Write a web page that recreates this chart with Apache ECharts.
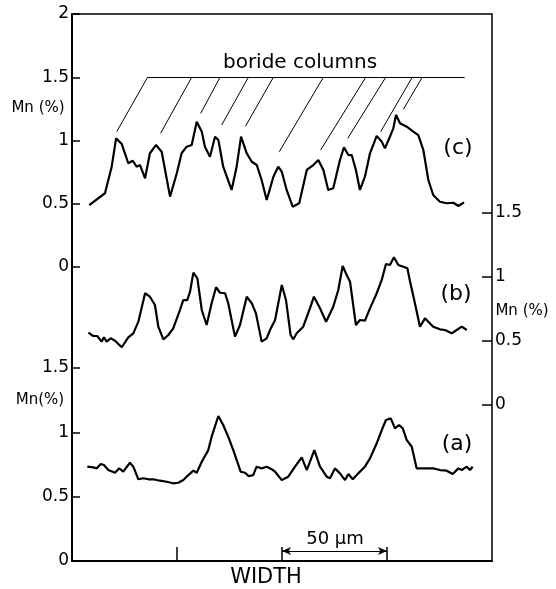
<!DOCTYPE html>
<html>
<head>
<meta charset="utf-8">
<script src="https://cdn.jsdelivr.net/npm/echarts@6/dist/echarts.min.js"></script>
<style>
  html, body { margin: 0; padding: 0; background: #fff; }
  #chart { width: 556px; height: 589px; }
</style>
</head>
<body>
<div id="chart"></div>
<script>
// width across the section, in µm (0..200 spans the frame)
const cWidth = [8.2, 15.7, 18.9, 21.0, 23.7, 26.8, 28.9, 30.8, 32.4, 34.8, 37.1, 40.0, 42.7, 46.7, 49.9, 52.2, 54.6, 57.0, 59.4, 61.8, 63.3, 65.7, 68.1, 69.7, 72.0, 76.0, 78.4, 80.5, 83.2, 85.6, 88.0, 90.3, 92.7, 94.3, 95.9, 98.2, 99.9, 102.2, 105.1, 108.2, 111.8, 114.9, 117.3, 119.7, 122.0, 124.4, 127.6, 129.5, 131.6, 133.2, 135.2, 137.1, 139.5, 141.9, 145.1, 147.5, 149.0, 151.4, 153.0, 154.3, 156.2, 159.4, 162.5, 164.9, 167.3, 169.7, 172.0, 175.2, 178.4, 181.6, 184.0, 186.7];
const cMn = [0.49, 0.583, 0.793, 1.017, 0.972, 0.820, 0.840, 0.793, 0.806, 0.701, 0.899, 0.964, 0.911, 0.556, 0.741, 0.899, 0.951, 0.964, 1.149, 1.070, 0.951, 0.872, 1.030, 1.004, 0.793, 0.609, 0.793, 1.030, 0.899, 0.832, 0.806, 0.688, 0.530, 0.62, 0.714, 0.793, 0.753, 0.609, 0.477, 0.504, 0.767, 0.806, 0.846, 0.767, 0.609, 0.622, 0.846, 0.946, 0.885, 0.885, 0.767, 0.609, 0.714, 0.899, 1.036, 0.991, 0.938, 1.030, 1.096, 1.202, 1.136, 1.109, 1.070, 1.043, 0.925, 0.688, 0.569, 0.516, 0.504, 0.508, 0.482, 0.511];

const bWidth = [7.8, 10.1, 12.0, 14.1, 15.2, 16.5, 18.4, 20.5, 23.7, 26.8, 29.2, 31.6, 34.8, 37.1, 39.5, 41.1, 43.5, 45.9, 48.2, 51.4, 53.0, 54.9, 56.2, 57.8, 59.7, 61.8, 64.1, 66.5, 68.6, 70.5, 72.9, 74.4, 77.6, 80.0, 83.2, 85.6, 87.6, 90.3, 92.7, 94.3, 96.7, 99.9, 101.9, 104.1, 105.4, 107.0, 110.1, 113.3, 115.2, 118.1, 121.0, 124.4, 126.8, 128.9, 130.8, 132.4, 135.2, 137.1, 139.5, 141.9, 145.1, 147.5, 149.5, 151.4, 153.3, 155.4, 157.8, 159.7, 161.0, 163.3, 165.7, 168.1, 169.7, 172.0, 175.2, 177.6, 180.8, 183.2, 185.6, 188.0];
const bMn = [0.565, 0.539, 0.539, 0.495, 0.529, 0.495, 0.521, 0.502, 0.451, 0.529, 0.560, 0.651, 0.873, 0.846, 0.781, 0.612, 0.513, 0.547, 0.599, 0.742, 0.820, 0.820, 0.885, 1.034, 0.990, 0.742, 0.625, 0.795, 0.920, 0.877, 0.873, 0.795, 0.534, 0.625, 0.846, 0.795, 0.716, 0.495, 0.521, 0.586, 0.664, 0.938, 0.820, 0.547, 0.513, 0.560, 0.612, 0.755, 0.846, 0.755, 0.651, 0.768, 0.898, 1.086, 1.016, 0.963, 0.625, 0.664, 0.659, 0.755, 0.873, 0.977, 1.102, 1.094, 1.154, 1.094, 1.080, 1.068, 0.963, 0.795, 0.612, 0.677, 0.651, 0.612, 0.591, 0.586, 0.560, 0.586, 0.612, 0.586];

const aWidth = [7.3, 10.1, 11.8, 13.7, 15.2, 17.3, 20.5, 22.5, 24.4, 27.6, 29.2, 31.6, 34.0, 36.3, 38.7, 41.9, 45.1, 48.2, 50.6, 53.0, 55.4, 57.8, 59.4, 61.8, 64.9, 66.5, 69.7, 72.0, 74.4, 76.8, 80.3, 82.4, 84.0, 86.3, 87.9, 90.3, 92.7, 95.1, 96.7, 99.9, 103.0, 106.2, 109.4, 111.8, 115.4, 118.1, 121.3, 122.9, 125.2, 127.6, 130.0, 131.6, 133.7, 136.3, 139.5, 141.9, 145.1, 147.5, 149.5, 151.8, 153.8, 155.7, 157.5, 159.4, 161.8, 164.1, 166.5, 168.9, 172.0, 175.2, 178.4, 181.3, 184.0, 185.6, 188.0, 189.5, 190.8];
const aMn = [0.733, 0.728, 0.720, 0.754, 0.746, 0.707, 0.686, 0.720, 0.694, 0.764, 0.733, 0.635, 0.643, 0.635, 0.635, 0.624, 0.616, 0.604, 0.608, 0.629, 0.668, 0.702, 0.686, 0.772, 0.862, 0.966, 1.127, 1.057, 0.966, 0.862, 0.694, 0.686, 0.660, 0.668, 0.733, 0.720, 0.733, 0.713, 0.694, 0.629, 0.655, 0.733, 0.806, 0.707, 0.862, 0.733, 0.655, 0.643, 0.720, 0.681, 0.629, 0.676, 0.635, 0.681, 0.733, 0.798, 0.915, 1.018, 1.096, 1.109, 1.031, 1.057, 1.031, 0.940, 0.888, 0.720, 0.720, 0.720, 0.720, 0.707, 0.702, 0.676, 0.720, 0.707, 0.733, 0.707, 0.733];

// "boride columns" pointer lines (trace c units)
const borideLevel = 1.5;
const borideSpan = [36.0, 187.0];
const leaderTopX = [36.0, 57.0, 70.5, 84.0, 95.9, 119.7, 139.9, 149.4, 162.0, 166.8];
const leaderTipX = [21.3, 42.2, 61.3, 71.3, 82.7, 98.7, 118.4, 131.3, 147.0, 157.8];
const leaderTipMn = [1.07, 1.057, 1.215, 1.123, 1.115, 0.911, 0.925, 1.017, 1.07, 1.247];

// 50 µm scale bar (trace a units)
const scaleBar = [100, 150];
const scaleBarLevel = 0.078;
const widthTicks = [50, 100, 150];

const FONT = '"DejaVu Sans", sans-serif';
const chart = echarts.init(document.getElementById('chart'));

function pairs(xs, ys) {
  return xs.map((x, i) => [x, ys[i]]);
}

function hiddenX(gi) {
  return { type: 'value', gridIndex: gi, min: 0, max: 200, show: false, axisLine: { onZero: false } };
}

function mnAxis(gi, pos, max, tickLen) {
  return {
    type: 'value', gridIndex: gi, position: pos, min: 0, max: max, interval: 0.5,
    axisLine: { show: false, onZero: false },
    axisTick: { show: true, inside: true, length: tickLen, lineStyle: { color: '#000', width: 1.5 } },
    axisLabel: { color: '#000', fontFamily: FONT, fontSize: 17, margin: 3 },
    splitLine: { show: false }
  };
}

function label(text, x, y, size) {
  return {
    type: 'text', x: x, y: y, silent: true,
    style: { text: text, fill: '#000', font: size + 'px ' + FONT, align: 'center', verticalAlign: 'middle' }
  };
}

const leaders = leaderTopX.map((x, i) => [
  { coord: [x, borideLevel] },
  { coord: [leaderTipX[i], leaderTipMn[i]] }
]);

const traceStyle = { color: '#000', width: 2.2 };

chart.setOption({
  animation: false,
  backgroundColor: '#fff',
  grid: [
    { left: 72, top: 14, width: 420, height: 547, show: true, borderColor: '#000', borderWidth: 1.5 },
    { left: 72, top: 14, width: 420, height: 253 },
    { left: 72, top: 213, width: 420, height: 192 },
    { left: 72, top: 368, width: 420, height: 193 }
  ],
  xAxis: [
    {
      type: 'value', gridIndex: 0, min: 0, max: 200,
      axisLine: { onZero: false, lineStyle: { color: '#000', width: 2 } },
      axisTick: { show: true, inside: true, length: 14, customValues: widthTicks, lineStyle: { color: '#000', width: 1.5 } },
      axisLabel: { show: false },
      splitLine: { show: false }
    },
    hiddenX(1), hiddenX(2), hiddenX(3)
  ],
  yAxis: [
    {
      type: 'value', gridIndex: 0, min: 0, max: 1,
      axisLine: { show: true, onZero: false, lineStyle: { color: '#000', width: 2 } },
      axisTick: { show: false }, axisLabel: { show: false }, splitLine: { show: false }
    },
    mnAxis(1, 'left', 2, 8),
    mnAxis(2, 'right', 1.5, 10),
    mnAxis(3, 'left', 1.5, 8)
  ],
  series: [
    {
      name: '(c)', type: 'line', xAxisIndex: 1, yAxisIndex: 1,
      data: pairs(cWidth, cMn), showSymbol: false, lineStyle: traceStyle,
      markLine: {
        silent: true, symbol: ['none', 'none'], label: { show: false },
        lineStyle: { color: '#000', width: 1, type: 'solid' },
        data: [[{ coord: [borideSpan[0], borideLevel] }, { coord: [borideSpan[1], borideLevel] }]].concat(leaders)
      }
    },
    {
      name: '(b)', type: 'line', xAxisIndex: 2, yAxisIndex: 2,
      data: pairs(bWidth, bMn), showSymbol: false, lineStyle: traceStyle
    },
    {
      name: '(a)', type: 'line', xAxisIndex: 3, yAxisIndex: 3,
      data: pairs(aWidth, aMn), showSymbol: false, lineStyle: traceStyle,
      markLine: {
        silent: true, symbol: ['arrow', 'arrow'], symbolSize: [6, 9], label: { show: false },
        lineStyle: { color: '#000', width: 1.2, type: 'solid' },
        data: [[{ coord: [scaleBar[0], scaleBarLevel] }, { coord: [scaleBar[1], scaleBarLevel] }]]
      }
    }
  ],
  graphic: [
    label('boride columns', 300, 63, 20),
    label('(c)', 458, 148, 22),
    label('(b)', 456, 294, 22),
    label('(a)', 457, 444, 22),
    label('Mn (%)', 38, 108, 15),
    label('Mn(%)', 40, 400, 15),
    label('Mn (%)', 522, 311, 15),
    label('50 µm', 335, 539, 18),
    label('WIDTH', 266, 578, 21)
  ]
});
</script>
</body>
</html>
